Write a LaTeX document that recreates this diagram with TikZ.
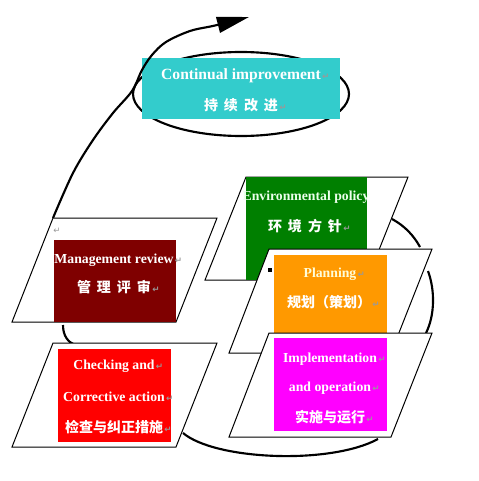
\documentclass[tikz,border=0pt]{standalone}
\usepackage{fontspec}
\setmainfont{Liberation Serif}
\newfontfamily\cjk{Noto Sans CJK SC}
\newfontfamily\symf{DejaVu Sans}
\usetikzlibrary{arrows.meta}
\definecolor{cicyan}{HTML}{33CCCC}
\definecolor{mrred}{HTML}{7F0000}
\definecolor{ckred}{HTML}{FF0000}
\definecolor{epgreen}{HTML}{007F00}
\definecolor{plorange}{HTML}{FF9900}
\definecolor{immag}{HTML}{FF00FF}
\newcommand\parmk{\rlap{\kern1pt\textcolor{gray!80}{\symf\fontsize{6.5}{7}\selectfont ↵}}}
\newcommand\zgap{\hspace{4.5pt}}
\tikzset{
  para/.style={draw=black, line width=0.75pt, fill=white},
  loopline/.style={draw=black, line width=1.6pt},
  en/.style={anchor=base, inner sep=0pt, text=white, font=\fontsize{10.3}{12}\selectfont\bfseries},
  zh/.style={anchor=base, inner sep=0pt, text=white, font=\fontsize{10.5}{12}\selectfont\cjk\bfseries},
}
\begin{document}
\begin{tikzpicture}[x=0.75pt,y=-0.75pt]
\useasboundingbox (0,0) rectangle (478,481);
% named coordinates of the parallelograms
\coordinate (mrA) at (53,218);  \coordinate (mrB) at (217,218); \coordinate (mrC) at (176,322); \coordinate (mrD) at (12,322);
\coordinate (ckA) at (53,343);  \coordinate (ckB) at (217,343); \coordinate (ckC) at (176,447); \coordinate (ckD) at (12,447);
\coordinate (epA) at (246,177); \coordinate (epB) at (408,177); \coordinate (epC) at (367,280); \coordinate (epD) at (205,280);
\coordinate (plA) at (269,249); \coordinate (plB) at (432,249); \coordinate (plC) at (391,353); \coordinate (plD) at (229,353);
\coordinate (imA) at (269,333); \coordinate (imB) at (432,333); \coordinate (imC) at (391,437); \coordinate (imD) at (229,437);
\coordinate (tip) at (249,17);

% cycle arcs (behind the panels)
\draw[loopline] (63,325) .. controls (63,336) and (68,342) .. (75,345);
\draw[loopline] (183,433) .. controls (215,460) and (330,465) .. (378,439);
\draw[loopline] (428,271) .. controls (435,290) and (435,315) .. (426,333);
\draw[loopline] (392,219) .. controls (405,226) and (414,236) .. (420,247);

% continual improvement
\draw[loopline] (241,94) ellipse [x radius=108, y radius=42];
\fill[cicyan] (142,58) rectangle (340,119);
\node[en, font=\fontsize{11.7}{14}\selectfont\bfseries] (ciA) at (241,80) {Continual improvement\parmk};
\node[zh] (ciB) at (241,111) {持\zgap 续\zgap 改\zgap 进\parmk};

% improvement arrow
\draw[line width=1.6pt, -{Triangle[length=24pt,width=12pt]}]
  plot[smooth, tension=0.55] coordinates {(mrA) (73,173) (93,140) (113,113) (132,91) (142,70) (152,55) (166,42) (190,31) (215,25.5) (tip)};

% management review
\draw[para] (mrA) -- (mrB) -- (mrC) -- (mrD) -- cycle;
\fill[mrred] (54,240) rectangle (mrC);
\node[anchor=base, inner sep=0pt, text=gray!80, font=\symf\fontsize{6.5}{7}\selectfont] (mrM) at (57,233) {↵};
\node[en] (mrE) at (114,263) {Management review\parmk};
\node[zh] (mrZ) at (114,292) {管\zgap 理\zgap 评\zgap 审\parmk};

% checking and corrective action
\draw[para] (ckA) -- (ckB) -- (ckC) -- (ckD) -- cycle;
\fill[ckred] (58,349) rectangle (171,442);
\node[en] (ckE1) at (114,369) {Checking and\parmk};
\node[en] (ckE2) at (114,401) {Corrective action\parmk};
\node[zh] (ckZ) at (114,432) {检查与纠正措施\parmk};

% environmental policy
\draw[para] (epA) -- (epB) -- (epC) -- (epD) -- cycle;
\fill[epgreen] (epA) rectangle (epC);
\node[en, text=green!8!white] (epE) at (306,200) {Environmental policy};
\node[zh] (epZ) at (305,231) {环\zgap 境\zgap 方\zgap 针\parmk};

% planning
\draw[para] (plA) -- (plB) -- (plC) -- (plD) -- cycle;
\fill[plorange] (274,255) rectangle (387,340);
\fill[black] (268,268) rectangle (272,272);
\node[en, text=yellow!15!white] (plE) at (330,277) {Planning\parmk};
\node[zh] (plZ) at (329,307) {规划（策划）\parmk};

% implementation and operation
\draw[para] (imA) -- (imB) -- (imC) -- (imD) -- cycle;
\fill[immag] (274,338) rectangle (387,431);
\node[en] (imE1) at (330,362) {Implementation\parmk};
\node[en] (imE2) at (330,391) {and operation\parmk};
\node[zh] (imZ) at (330,422) {实施与运行\parmk};
\end{tikzpicture}
\end{document}
